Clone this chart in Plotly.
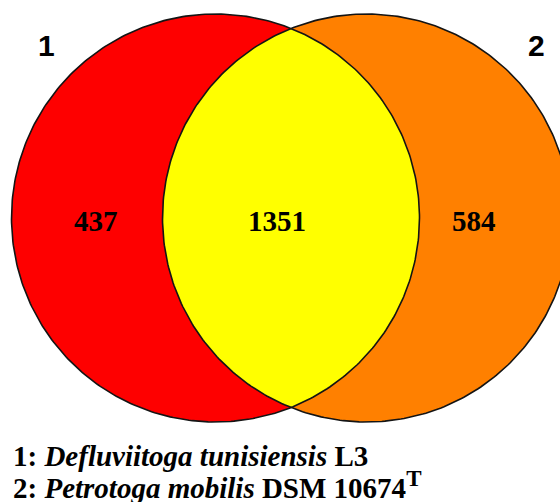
import numpy as np
import plotly.graph_objects as go

# venn counts: only set 1, shared, only set 2
region_labels = ["only_1", "both", "only_2"]
region_counts = [437, 1351, 584]
set_ids = ["1", "2"]
set_names = ["Defluviitoga tunisiensis", "Petrotoga mobilis"]
set_strains = ["L3", "DSM 10674<sup><span style='font-size:23px'>T</span></sup>"]

# layout in pixel units (axes are mapped 1:1 to the 560x502 page)
W, H = 560, 502
R = 204
CY = 218
CX1, CX2 = 215.5, 366.5
count_x = [96, 277, 474]
count_y = 221

RED = "#fe0000"
ORANGE = "#ff8000"
YELLOW = "#ffff00"
EDGE = "#141414"


def circle(cx, cy, r, a0=0, a1=2 * np.pi, n=400):
    t = np.linspace(a0, a1, n)
    return cx + r * np.cos(t), cy + r * np.sin(t)


fig = go.Figure()

# the two sets
for cx, col in [(CX1, RED), (CX2, ORANGE)]:
    x, y = circle(cx, CY, R)
    fig.add_trace(go.Scatter(x=x, y=y, fill="toself", fillcolor=col, mode="lines",
                             line=dict(width=0), hoverinfo="skip", showlegend=False))

# intersection lens
d = (CX2 - CX1) / 2
th = np.arctan2(np.sqrt(R**2 - d**2), d)
xa, ya = circle(CX1, CY, R, -th, th)
xb, yb = circle(CX2, CY, R, np.pi - th, np.pi + th)
fig.add_trace(go.Scatter(x=np.r_[xa, xb], y=np.r_[ya, yb], fill="toself", fillcolor=YELLOW,
                         mode="lines", line=dict(width=0), hoverinfo="skip", showlegend=False))

# outlines on top
for cx in [CX1, CX2]:
    x, y = circle(cx, CY, R)
    fig.add_trace(go.Scatter(x=x, y=y, mode="lines", line=dict(color=EDGE, width=1.6),
                             hoverinfo="skip", showlegend=False))

# counts
for lab, n, x in zip(region_labels, region_counts, count_x):
    fig.add_annotation(x=x, y=count_y, text="<b>%d</b>" % n, showarrow=False,
                       font=dict(family="Liberation Serif", size=29, color="black"))

# set numbers
for sid, x in zip(set_ids, [46, 536]):
    fig.add_annotation(x=x, y=45, text="<b>%s</b>" % sid, showarrow=False,
                       font=dict(family="Liberation Sans", size=30, color="black"))

# key below
for i, (sid, nm, st) in enumerate(zip(set_ids, set_names, set_strains)):
    fig.add_annotation(x=11, y=[456, 485][i], xanchor="left", yanchor="middle", showarrow=False,
                       text="<b>%s: <i>%s</i> %s</b>" % (sid, nm, st),
                       font=dict(family="Liberation Serif", size=29, color="black"))

fig.update_xaxes(range=[0, W], visible=False)
fig.update_yaxes(range=[H, 0], visible=False)
fig.update_layout(width=W, height=H, margin=dict(l=0, r=0, t=0, b=0),
                  paper_bgcolor="white", plot_bgcolor="white")
fig.write_html("out.html", config={"displayModeBar": False},
               post_script="document.body.style.margin='0';document.body.style.overflow='hidden';")
